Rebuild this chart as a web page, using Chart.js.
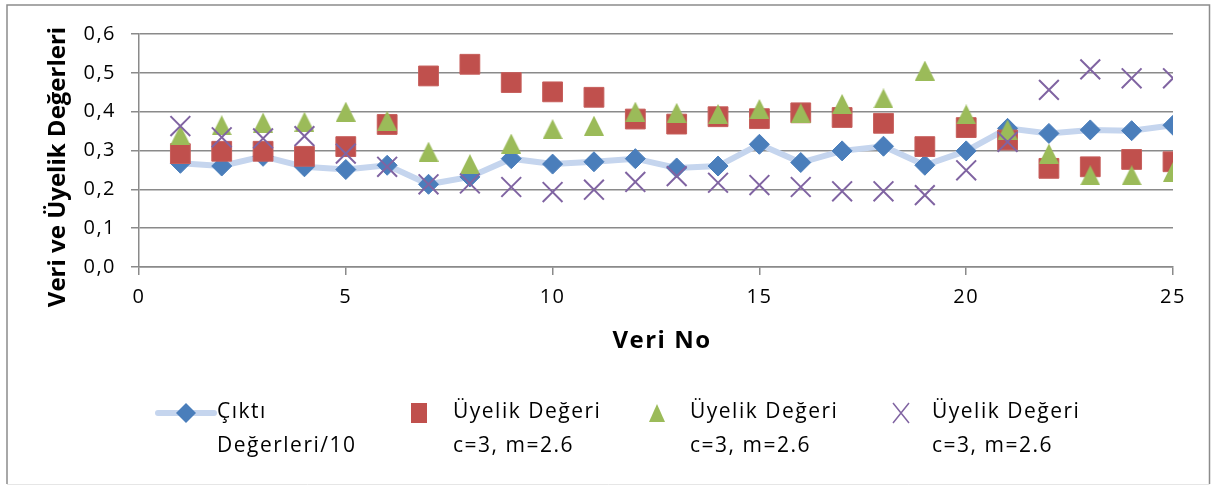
<!DOCTYPE html>
<html><head><meta charset="utf-8">
<script src="https://cdn.jsdelivr.net/npm/chart.js@4/dist/chart.umd.min.js"></script>
<style>html,body{margin:0;padding:0;background:#fff;}canvas{display:block;}</style>
</head><body>
<canvas id="c" width="1213" height="486"></canvas>
<script>
// ---- data ----
const xValues = [1,2,3,4,5,6,7,8,9,10,11,12,13,14,15,16,17,18,19,20,21,22,23,24,25];
const ciktiValues = [0.267,0.260,0.285,0.258,0.251,0.262,0.213,0.232,0.279,0.265,0.271,0.279,0.255,0.260,0.316,0.269,0.299,0.311,0.262,0.299,0.357,0.344,0.353,0.351,0.365];
const uyelik1 = [0.292,0.298,0.298,0.285,0.310,0.367,0.492,0.522,0.475,0.451,0.437,0.381,0.368,0.387,0.382,0.397,0.385,0.370,0.310,0.359,0.327,0.254,0.258,0.277,0.271];
const uyelik2 = [0.340,0.365,0.372,0.374,0.400,0.377,0.297,0.265,0.318,0.355,0.364,0.400,0.397,0.394,0.407,0.396,0.420,0.434,0.506,0.393,0.354,0.292,0.236,0.236,0.245];
const uyelik3 = [0.363,0.334,0.331,0.337,0.292,0.258,0.213,0.215,0.206,0.193,0.199,0.219,0.234,0.217,0.211,0.206,0.195,0.195,0.185,0.249,0.322,0.456,0.509,0.486,0.486];
const seriesLabels = [['Çıktı','Değerleri/10'],['Üyelik Değeri','c=3, m=2.6'],['Üyelik Değeri','c=3, m=2.6'],['Üyelik Değeri','c=3, m=2.6']];
const xTickValues = [0,5,10,15,20,25];
const yTickValues = [0,0.1,0.2,0.3,0.4,0.5,0.6];
const yTickLabels = ['0,0','0,1','0,2','0,3','0,4','0,5','0,6'];
const xAxisTitle = 'Veri No';
const yAxisTitle = 'Veri ve Üyelik Değerleri';

// ---- styles ----
const FONT = "'Open Sans', sans-serif";
const GRID = '#8a8a8a';
const BLUE = '#4a7ebb', LINEBLUE = '#c5d5ee', RED = '#c0504d', GREEN = '#9bbb59', PURPLE = '#8064a2';
const SPACING = '1.5px';

function pts(arr){ return arr.map((v,i)=>({x:xValues[i], y:v})); }

function triPath(ctx, cx, cy, w, h){
  ctx.beginPath();
  ctx.moveTo(cx, cy - h/2); ctx.lineTo(cx + w/2, cy + h/2); ctx.lineTo(cx - w/2, cy + h/2); ctx.closePath();
}
function makeTriangle(w, h, color){
  const c = document.createElement('canvas'); c.width = w; c.height = h;
  const x = c.getContext('2d'); x.fillStyle = color; triPath(x, w/2, h/2, w, h); x.fill();
  return c;
}
const triImg = makeTriangle(20, 20, GRID && GREEN);

Chart.defaults.font.family = FONT;
Chart.defaults.color = '#000';

const decor = {
  id: 'decor',
  beforeUpdate(c){ c.ctx.letterSpacing = SPACING; },
  beforeLayout(c){ c.ctx.letterSpacing = SPACING; },
  beforeDraw(c){ c.ctx.letterSpacing = SPACING; },
  afterDraw(chart){
    const ctx = chart.ctx;
    ctx.save();
    // outer border
    ctx.strokeStyle = '#8c8c8c'; ctx.lineWidth = 1.5;
    ctx.beginPath(); ctx.moveTo(7, 484); ctx.lineTo(7, 5); ctx.lineTo(1209.5, 5); ctx.lineTo(1209.5, 484); ctx.stroke();
    ctx.strokeStyle = '#e6e6e6'; ctx.lineWidth = 1;
    ctx.beginPath(); ctx.moveTo(7, 484.5); ctx.lineTo(1209.5, 484.5); ctx.stroke();
    // axis titles
    ctx.fillStyle = '#000'; ctx.textAlign = 'center'; ctx.textBaseline = 'middle';
    ctx.letterSpacing = SPACING;
    ctx.font = 'bold 24px ' + FONT;
    const ca = chart.chartArea;
    ctx.fillText(xAxisTitle, (ca.left + ca.right)/2 + 6, 341);
    ctx.save();
    ctx.letterSpacing = '0px';
    ctx.translate(58, 167); ctx.rotate(-Math.PI/2);
    ctx.fillText(yAxisTitle, 0, 0);
    ctx.restore();
    // legend
    ctx.font = '21px ' + FONT; ctx.textAlign = 'left';
    const pos = [{mx:186, tx:217},{mx:419, tx:453},{mx:657, tx:690},{mx:901, tx:932}];
    const my = 413;
    chart.data.datasets.forEach((ds, i) => {
      const p = pos[i];
      if (i === 0) {
        ctx.strokeStyle = LINEBLUE; ctx.lineWidth = 6; ctx.lineCap = 'round';
        ctx.beginPath(); ctx.moveTo(p.mx - 28, my); ctx.lineTo(p.mx + 28, my); ctx.stroke();
        ctx.fillStyle = BLUE; ctx.beginPath();
        ctx.moveTo(p.mx, my - 10); ctx.lineTo(p.mx + 10, my); ctx.lineTo(p.mx, my + 10); ctx.lineTo(p.mx - 10, my); ctx.closePath(); ctx.fill();
      } else if (i === 1) {
        ctx.fillStyle = RED; ctx.fillRect(p.mx - 8, my - 10, 16, 20);
      } else if (i === 2) {
        ctx.fillStyle = GREEN; triPath(ctx, p.mx, my, 16, 18); ctx.fill();
      } else {
        ctx.strokeStyle = PURPLE; ctx.lineWidth = 1.5; ctx.lineCap = 'butt';
        ctx.beginPath(); ctx.moveTo(p.mx - 8, my - 10); ctx.lineTo(p.mx + 8, my + 10);
        ctx.moveTo(p.mx + 8, my - 10); ctx.lineTo(p.mx - 8, my + 10); ctx.stroke();
      }
      ctx.fillStyle = '#000';
      ds.labelLines.forEach((t, k) => ctx.fillText(t, p.tx, 412 + k*34));
    });
    ctx.restore();
  }
};

new Chart(document.getElementById('c'), {
  type: 'scatter',
  data: {
    datasets: [
      { label: seriesLabels[0].join(' '), labelLines: seriesLabels[0], data: pts(ciktiValues), showLine: true,
        borderColor: LINEBLUE, borderWidth: 6, pointStyle: 'rectRot', pointRadius: 10,
        pointBackgroundColor: BLUE, pointBorderColor: BLUE, pointBorderWidth: 1, order: 4 },
      { label: seriesLabels[1].join(' '), labelLines: seriesLabels[1], data: pts(uyelik1),
        pointStyle: 'rect', pointRadius: 14, pointBackgroundColor: RED, pointBorderColor: '#c65e5b', pointBorderWidth: 1, order: 3 },
      { label: seriesLabels[2].join(' '), labelLines: seriesLabels[2], data: pts(uyelik2),
        pointStyle: triImg, pointRadius: 10, order: 2 },
      { label: seriesLabels[3].join(' '), labelLines: seriesLabels[3], data: pts(uyelik3),
        pointStyle: 'crossRot', pointRadius: 14, pointBorderColor: PURPLE, pointBorderWidth: 2, order: 1 }
    ]
  },
  options: {
    responsive: false, animation: false, devicePixelRatio: 1,
    layout: { padding: { left: 0, top: 34, right: 40, bottom: 0 } },
    plugins: { legend: { display: false }, tooltip: { enabled: false } },
    scales: {
      x: {
        type: 'linear', min: 0, max: 25,
        afterBuildTicks: s => { s.ticks = xTickValues.map(v => ({ value: v })); },
        afterFit: s => { s.height = 219; },
        ticks: { color: '#000', font: { size: 20 }, padding: 10, maxRotation: 0, autoSkip: false },
        grid: { drawOnChartArea: false, drawTicks: true, tickLength: 8, color: GRID, lineWidth: 1.5 },
        border: { display: true, color: GRID, width: 1.5 }
      },
      y: {
        min: 0, max: 0.6,
        afterBuildTicks: s => { s.ticks = yTickValues.map(v => ({ value: v })); },
        afterFit: s => { s.width = 139; },
        ticks: { color: '#000', font: { size: 20 }, padding: 15, callback: (v, i) => yTickLabels[i] },
        grid: { color: GRID, lineWidth: 1.5, tickLength: 8, drawTicks: true },
        border: { display: true, color: GRID, width: 1.5 }
      }
    }
  },
  plugins: [decor]
});
</script>
</body></html>
